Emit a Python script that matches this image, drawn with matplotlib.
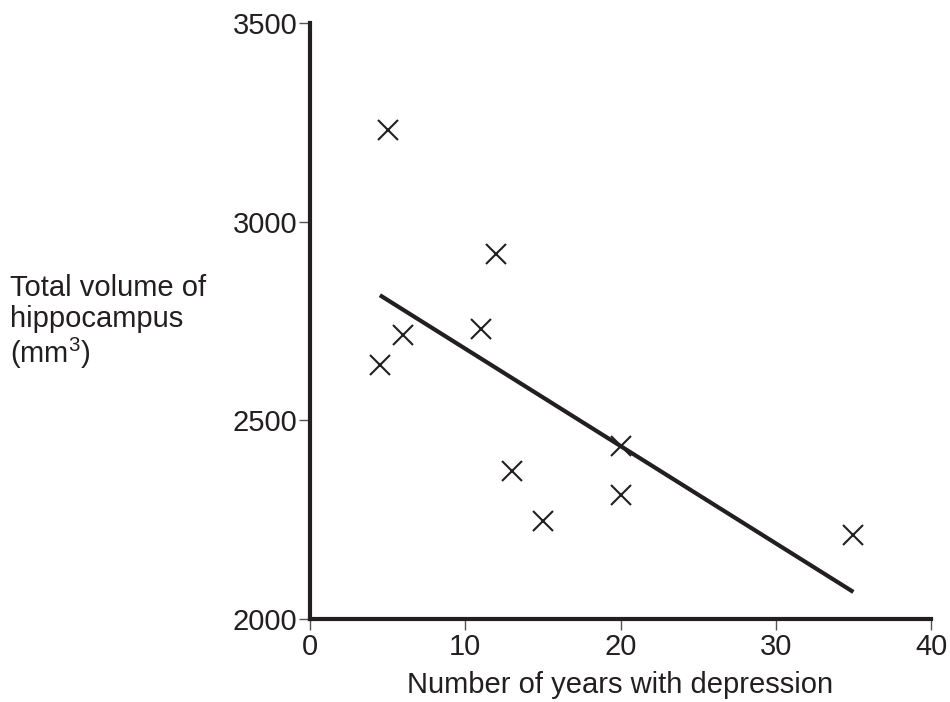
import matplotlib
matplotlib.use("Agg")
import matplotlib.pyplot as plt

years = [5, 12, 11, 6, 4.5, 13, 15, 20, 20, 35]
volume = [3230, 2918, 2731, 2716, 2640, 2373, 2247, 2436, 2312, 2212]
fit_x = [4.5, 35]
fit_y = [2815, 2068]
xticks = [0, 10, 20, 30, 40]
yticks = [2000, 2500, 3000, 3500]

plt.rcParams['font.family'] = ['Liberation Sans', 'DejaVu Sans']
plt.rcParams['mathtext.fontset'] = 'custom'
plt.rcParams['mathtext.rm'] = 'Liberation Sans'
plt.rcParams['mathtext.default'] = 'rm'
fig = plt.figure(figsize=(9.5, 7.02), dpi=100)
ax = fig.add_axes([310/950, 1-619/702, (931-310)/950, (619-23)/702])

ax.plot(years, volume, linestyle='none', marker='x', markersize=14, markeredgewidth=1.5, color='#231f20')
ax.plot(fit_x, fit_y, color='#231f20', linewidth=3, solid_capstyle='butt')

ax.set_xlim(0, 40)
ax.set_ylim(2000, 3500)
ax.set_xticks(xticks)
ax.set_yticks(yticks)
for s in ['top', 'right']:
    ax.spines[s].set_visible(False)
for s in ['left', 'bottom']:
    ax.spines[s].set_linewidth(3)
    ax.spines[s].set_color('#231f20')
ax.tick_params(axis='both', length=8, width=1, color='#555555', labelsize=21, labelcolor='#231f20', pad=1)
ax.tick_params(axis='x', pad=2)
ax.set_xlabel('Number of years with depression', fontsize=21, color='#231f20', labelpad=7)
fig.text(10/950, 1-274/702, 'Total volume of\nhippocampus\n(mm$^3$)', fontsize=21, color='#231f20',
         ha='left', va='top', linespacing=1.12)

fig.savefig('out.png', dpi=100)
